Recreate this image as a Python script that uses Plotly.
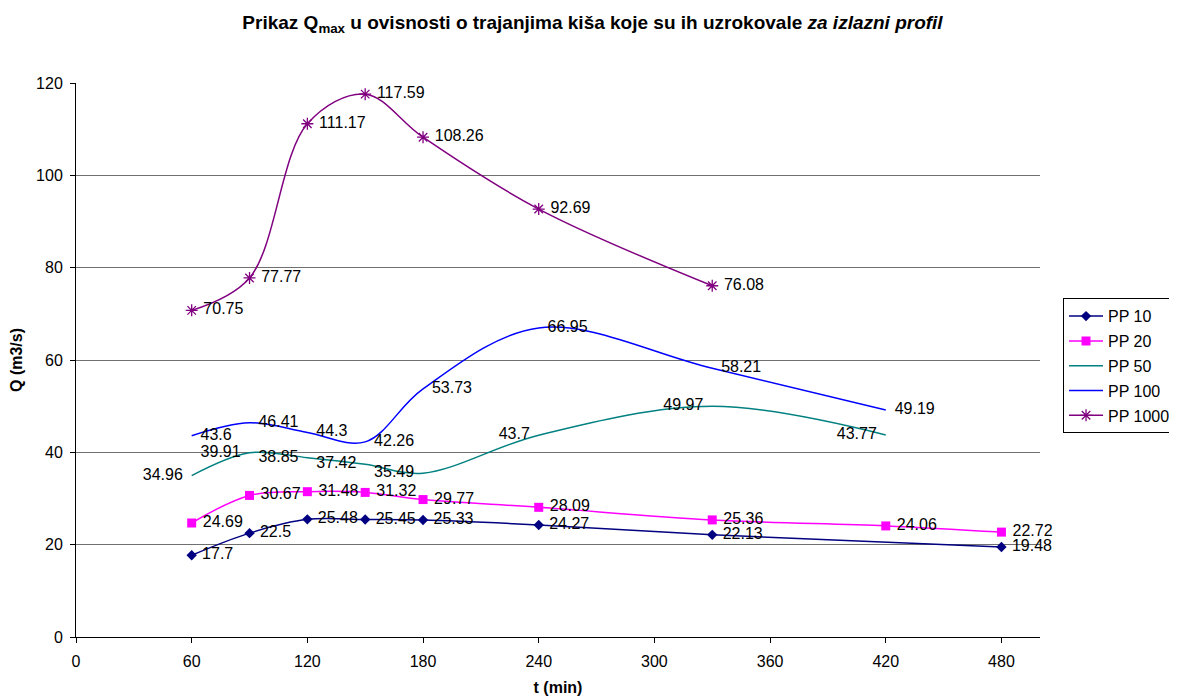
import plotly.graph_objects as go

pp10_t = [60, 90, 120, 150, 180, 240, 330, 480]
pp10_q = [17.7, 22.5, 25.48, 25.45, 25.33, 24.27, 22.13, 19.48]

pp20_t = [60, 90, 120, 150, 180, 240, 330, 420, 480]
pp20_q = [24.69, 30.67, 31.48, 31.32, 29.77, 28.09, 25.36, 24.06, 22.72]

pp50_t = [60, 90, 120, 150, 180, 240, 330, 420]
pp50_q = [34.96, 39.91, 38.85, 37.42, 35.49, 43.7, 49.97, 43.77]

pp100_t = [60, 90, 120, 150, 180, 240, 330, 420]
pp100_q = [43.6, 46.41, 44.3, 42.26, 53.73, 66.95, 58.21, 49.19]

pp1000_t = [60, 90, 120, 150, 180, 240, 330]
pp1000_q = [70.75, 77.77, 111.17, 117.59, 108.26, 92.69, 76.08]

x_ticks = [0, 60, 120, 180, 240, 300, 360, 420, 480]
y_ticks = [0, 20, 40, 60, 80, 100, 120]

FONT = "Liberation Sans, Arial, sans-serif"
lab_font = dict(family=FONT, size=16, color="black")

fig = go.Figure()

def fmt(v):
    return f"{v:g}"

fig.add_trace(go.Scatter(
    x=pp10_t, y=pp10_q, name="PP 10", mode="lines+markers+text", legendgroup="a",
    line=dict(color="#000080", width=1.5, shape="spline"),
    marker=dict(symbol="diamond", size=8, color="#000080"), cliponaxis=False,
    text=[" " + fmt(v) for v in pp10_q], textposition="middle right", textfont=lab_font))

fig.add_trace(go.Scatter(
    x=pp20_t, y=pp20_q, name="PP 20", mode="lines+markers+text", legendgroup="b",
    line=dict(color="#FF00FF", width=1.5, shape="spline"),
    marker=dict(symbol="square", size=9, color="#FF00FF"), cliponaxis=False,
    text=[" " + fmt(v) for v in pp20_q], textposition="middle right", textfont=lab_font))

fig.add_trace(go.Scatter(
    x=pp50_t, y=pp50_q, name="PP 50", mode="lines+text", legendgroup="c",
    line=dict(color="#008080", width=1.5, shape="spline"), cliponaxis=False,
    text=[fmt(v) + "  " for v in pp50_q], textposition="middle left", textfont=lab_font))

fig.add_trace(go.Scatter(
    x=pp100_t, y=pp100_q, name="PP 100", mode="lines+text", legendgroup="d",
    line=dict(color="#0000FF", width=1.5, shape="spline"), cliponaxis=False,
    text=["  " + fmt(v) for v in pp100_q], textposition="middle right", textfont=lab_font))

fig.add_trace(go.Scatter(
    x=pp1000_t, y=pp1000_q, name="PP 1000", mode="lines+markers+text", legendgroup="e",
    line=dict(color="#800080", width=1.5, shape="spline"), cliponaxis=False,
    marker=dict(symbol="asterisk-open", size=10, line=dict(color="#800080", width=1.3), color="#800080"),
    text=[" " + fmt(v) for v in pp1000_q], textposition="middle right", textfont=lab_font))

fig.update_layout(
    width=1169, height=691,
    margin=dict(l=68, r=137, t=75, b=62),
    paper_bgcolor="white", plot_bgcolor="white",
    font=dict(family=FONT, size=16, color="black"),
    title=dict(
        text="<b>Prikaz Q<sub>max</sub> u ovisnosti o trajanjima kiša koje su ih uzrokovale <i>za izlazni profil</i></b>",
        x=0.5, xanchor="center", y=0.979, yanchor="middle",
        font=dict(family=FONT, size=19, color="black")),
    showlegend=True,
    legend=dict(
        xref="container", yref="container",
        x=0.9025, xanchor="left", y=0.58, yanchor="top",
        bordercolor="black", borderwidth=1, bgcolor="white",
        font=dict(family=FONT, size=16), tracegroupgap=1, itemwidth=34),
)

fig.update_xaxes(
    range=[0, 500], tickvals=x_ticks, ticktext=[str(v) for v in x_ticks],
    showgrid=False, zeroline=False, showline=True, linecolor="black", linewidth=1,
    ticks="outside", ticklen=5, tickcolor="black", automargin=False,
    ticklabelstandoff=5,
    tickfont=dict(family=FONT, size=16),
    title=dict(text="<b>t (min)</b>", font=dict(family=FONT, size=16), standoff=12))

fig.update_yaxes(
    range=[0, 120], tickvals=y_ticks, ticktext=[str(v) for v in y_ticks],
    showgrid=True, gridcolor="#707070", gridwidth=1, zeroline=False,
    showline=True, linecolor="black", linewidth=1,
    ticks="outside", ticklen=5, tickcolor="black", automargin=False,
    ticklabelstandoff=4,
    tickfont=dict(family=FONT, size=16),
    title=dict(text="<b>Q (m3/s)</b>", font=dict(family=FONT, size=16), standoff=9))

fig.write_html("out.html")
